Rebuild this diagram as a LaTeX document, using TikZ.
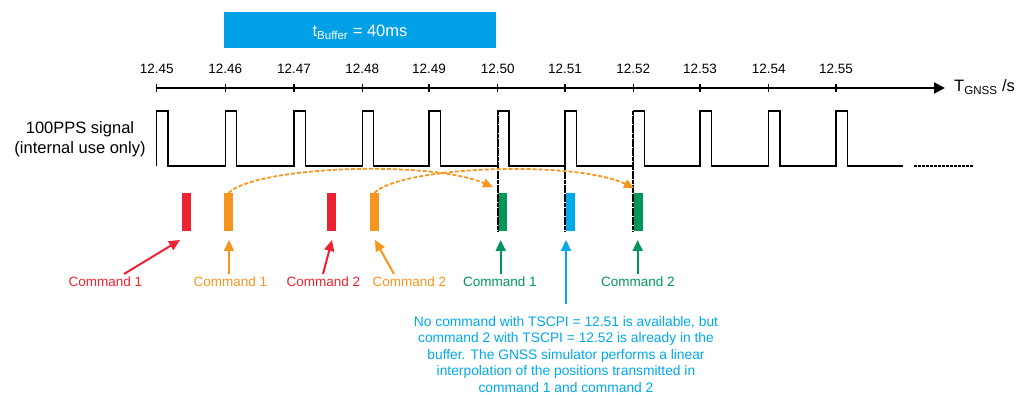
\documentclass[tikz,border=0pt]{standalone}
\usepackage{fontspec}
\setmainfont{Liberation Sans}
\usetikzlibrary{arrows.meta}
\definecolor{cred}{RGB}{237,34,50}
\definecolor{corange}{RGB}{247,150,30}
\definecolor{cgreen}{RGB}{0,150,90}
\definecolor{cblue}{RGB}{0,168,236}
\definecolor{cbox}{RGB}{0,160,230}
\begin{document}
\begin{tikzpicture}[x=1pt,y=-1pt,
  lab/.style={inner sep=0pt, font=\fontsize{13.5}{16}\selectfont},
  big/.style={inner sep=0pt, font=\fontsize{16.5}{19.5}\selectfont},
  bar/.style={minimum width=9pt, minimum height=38pt, inner sep=0pt, draw=none},
  cmdarrow/.style={line width=2pt, -{Triangle[length=11pt,width=10pt]}},
  vdash/.style={line width=2.2pt, dash pattern=on 4pt off 0.6pt},
  orarc/.style={draw=corange, line width=1.8pt, dash pattern=on 4pt off 2pt, -{Triangle[length=10pt,width=9pt]}},
  sig/.style={line width=1.3pt, line join=miter},
]
\useasboundingbox (0,0) rectangle (1022,395);

% buffer box
\node[fill=cbox, minimum width=272pt, minimum height=36pt, inner sep=0pt] (buf) at (360,30) {};
\node[big, text=white, anchor=base] (buftxt) at (360,37) {t\textsubscript{Buffer} = 40ms};

% axis
\coordinate (a0) at (156.7,88);
\coordinate (a1) at (945,88);
\draw[line width=2pt, -{Triangle[length=11pt,width=11pt]}] (a0) -- (a1);
\foreach \x/\l [count=\i] in {156.7/12.45,225.3/12.46,294/12.47,362.3/12.48,429/12.49,497.7/12.50,565/12.51,633.3/12.52,700/12.53,768.7/12.54,836/12.55}{
  \coordinate (tk\i) at (\x,88);
  \draw[line width=1.2pt] ([yshift=4pt]tk\i) -- ([yshift=-4pt]tk\i);
  \node[lab, anchor=base] (tl\i) at (\x,74) {\l};
}
\node[big, anchor=base west] (taxis) at (954,92) {T\textsubscript{GNSS} /s};

% signal
\node[big, align=center] (siglab) at (80,139) {100PPS signal\\(internal use only)};
\draw[sig] (156.7,166) foreach \x in {156.7,225.3,294,362.3,429,497.7,565,633.3,700,768.7,836}{ -- (\x,166) -- (\x,111) -- (\x+11.3,111) -- (\x+11.3,166) } -- (903,166);
\coordinate (d0) at (914,166);
\coordinate (d1) at (973,166);
\draw[line width=2pt, dash pattern=on 3pt off 1pt] (d0) -- (d1);

% bars
\node[bar, fill=cred] (r1) at (186.5,212) {};
\node[bar, fill=corange] (o1) at (228.5,212) {};
\node[bar, fill=cred] (r2) at (331.5,212) {};
\node[bar, fill=corange] (o2) at (374.5,212) {};
\node[bar, fill=cgreen] (g1) at (502.5,212) {};
\node[bar, fill=cblue] (b1) at (570,212) {};
\node[bar, fill=cgreen] (g2) at (638,212) {};

% vertical dashed markers
\coordinate (v1t) at (497.7,111); \coordinate (v1b) at (497.7,232);
\coordinate (v2t) at (565,111);   \coordinate (v2b) at (565,232);
\coordinate (v3t) at (633.3,111); \coordinate (v3b) at (633.3,232);
\draw[vdash] (v1t) -- (v1b);
\draw[vdash] (v2t) -- (v2b);
\draw[vdash] (v3t) -- (v3b);

% orange arcs
\coordinate (e1) at (493,187);
\coordinate (e2) at (634,188);
\draw[orarc] (o1.north) .. controls (258,166) and (430,160) .. (e1);
\draw[orarc] (o2.north) .. controls (402,166) and (575,160) .. (e2);

% labels
\node[lab, text=cred, anchor=base] (c1) at (105.5,287) {Command 1};
\node[lab, text=corange, anchor=base] (c2) at (230.5,287) {Command 1};
\node[lab, text=cred, anchor=base] (c3) at (323.5,287) {Command 2};
\node[lab, text=corange, anchor=base] (c4) at (409.5,287) {Command 2};
\node[lab, text=cgreen, anchor=base] (c5) at (500,287) {Command 1};
\node[lab, text=cgreen, anchor=base] (c6) at (638,287) {Command 2};

\coordinate (s1) at (124,274); \coordinate (t1) at (180,240);
\coordinate (s2) at (229,274); \coordinate (t2) at (229,240);
\coordinate (s3) at (323,274); \coordinate (t3) at (332,240);
\coordinate (s4) at (394,274); \coordinate (t4) at (375,240);
\coordinate (s5) at (500.7,274); \coordinate (t5) at (500.7,240);
\coordinate (s6) at (637.7,274); \coordinate (t6) at (637.7,240);
\coordinate (s7) at (566,304); \coordinate (t7) at (566,240);
\draw[cmdarrow, draw=cred, fill=cred] (s1) -- (t1);
\draw[cmdarrow, draw=corange, fill=corange] (s2) -- (t2);
\draw[cmdarrow, draw=cred, fill=cred] (s3) -- (t3);
\draw[cmdarrow, draw=corange, fill=corange] (s4) -- (t4);
\draw[cmdarrow, draw=cgreen, fill=cgreen] (s5) -- (t5);
\draw[cmdarrow, draw=cgreen, fill=cgreen] (s6) -- (t6);
\draw[cmdarrow, draw=cblue, fill=cblue] (s7) -- (t7);

\node[inner sep=0pt, text=cblue, align=center, anchor=north, font=\fontsize{13.8}{16.5}\selectfont] (note) at (566,316)
  {No command with TSCPI = 12.51 is available, but\\command 2 with TSCPI = 12.52 is already in the\\buffer. The GNSS simulator performs a linear\\interpolation of the positions transmitted in\\command 1 and command 2};
\end{tikzpicture}
\end{document}
